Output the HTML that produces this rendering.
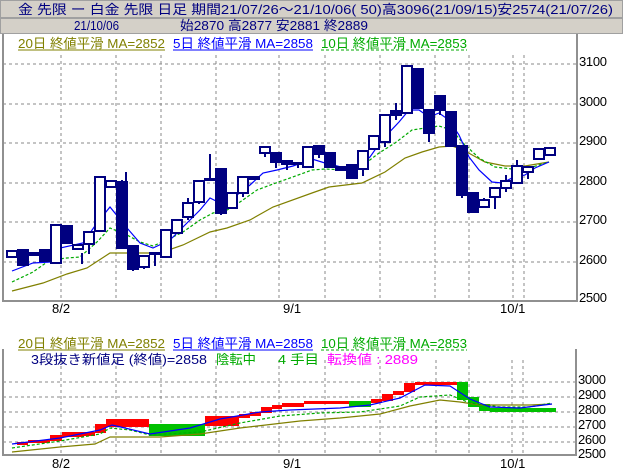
<!DOCTYPE html>
<html><head><meta charset="utf-8"><style>
html,body{margin:0;padding:0;background:#fff;}
svg{display:block;}
text{font-family:"Liberation Sans","Noto Sans CJK JP",sans-serif;font-size:13px;}
.ax{font-size:13px;fill:#000;}
</style></head><body>
<svg width="624" height="475" viewBox="0 0 624 475" xmlns="http://www.w3.org/2000/svg">
<rect x="0" y="0" width="624" height="475" fill="#fff"/>
<rect x="0.5" y="0.5" width="622" height="17" fill="#d4d0c8" stroke="#a0a0a0"/>
<rect x="0.5" y="18.5" width="622" height="15" fill="#d4d0c8" stroke="#a0a0a0"/>
<text x="18" y="14" fill="#000080" textLength="595" lengthAdjust="spacingAndGlyphs">金 先限 ー 白金 先限 日足 期間21/07/26～21/10/06( 50)高3096(21/09/15)安2574(21/07/26)</text>
<text x="74" y="30" fill="#000080" textLength="45" lengthAdjust="spacingAndGlyphs">21/10/06</text>
<text x="180" y="30" fill="#000080" textLength="188" lengthAdjust="spacingAndGlyphs">始2870 高2877 安2881 終2889</text>

<g stroke="#888" stroke-width="1" stroke-dasharray="3,3" fill="none">
<path d="M3 64H577M3 104H577M3 143H577M3 183H577M3 222H577M3 262H577"/>
<path d="M61 55V300M116 55V300M161 55V300M216 55V300M279 55V300M325 55V300M380 55V300M435 55V300M469 55V300M513 55V300M524 55V300"/>
</g>
<path d="M3 34V301H577V34" fill="none" stroke="#909090" stroke-width="2"/>
<text x="18" y="48" fill="#808000" textLength="147" lengthAdjust="spacingAndGlyphs">20日 終値平滑 MA=2852</text>
<line x1="18" y1="50" x2="165" y2="50" stroke="#808000"/>
<text x="173" y="48" fill="#0000ff" textLength="140" lengthAdjust="spacingAndGlyphs">5日 終値平滑 MA=2858</text>
<line x1="173" y1="50" x2="313" y2="50" stroke="#0000ff"/>
<text x="321" y="48" fill="#00aa00" textLength="146" lengthAdjust="spacingAndGlyphs">10日 終値平滑 MA=2853</text>
<line x1="321" y1="50" x2="467" y2="50" stroke="#00aa00" stroke-dasharray="3,2"/>
<g>
<text x="579" y="66" class="ax" textLength="28">3100</text><text x="579" y="106" class="ax" textLength="28">3000</text><text x="579" y="145" class="ax" textLength="28">2900</text><text x="579" y="185" class="ax" textLength="28">2800</text><text x="579" y="224" class="ax" textLength="28">2700</text><text x="579" y="264" class="ax" textLength="28">2600</text><text x="579" y="302" class="ax" textLength="28">2500</text>
<text x="52" y="313" class="ax">8/2</text><text x="283" y="313" class="ax">9/1</text><text x="500" y="313" class="ax">10/1</text>
</g>
<polyline fill="none" stroke="#808000" stroke-width="1.2" points="12,291 43,283 67,274 87,268 110,253 127,253 160,253 183,245 210,232 227,228 250,220 273,207 312,193 329,187 362,183 385,172 405,158 422,152 439,147 452,146 465,151 485,162 505,166 525,166 549,162"/>
<polyline fill="none" stroke="#00aa00" stroke-width="1.2" stroke-dasharray="3,2" points="12,282 33,272 50,260 67,258 80,257 97,242 110,228 127,235 140,242 153,246 167,240 183,232 200,220 213,213 227,210 240,202 257,190 273,184 290,178 312,170 325,169 345,170 362,166 379,153 395,143 412,130 425,128 439,126 452,130 462,142 479,158 495,167 512,169 529,168 549,162"/>
<polyline fill="none" stroke="#0000ff" stroke-width="1.2" points="12,271 33,263 50,262 60,248 83,243 97,223 110,207 127,228 140,243 153,248 170,240 187,223 200,210 210,198 220,203 233,198 250,185 263,173 277,170 293,166 312,159 325,163 345,168 359,166 370,157 382,140 399,122 409,110 419,110 429,117 439,113 449,120 459,135 469,157 479,170 492,182 502,183 512,178 525,175 535,168 549,162"/>
<g stroke="#000080" stroke-width="2">
<path d="M82 253V264M89 245V254M122 180V182M126 172V181M133 269V271M144 267V269M155 253V266M188 198V220M199 202V204M210 154V179M221 213V215M243 193V197M265 153V157M276 162V168M287 164V170M298 163V168M319 154V158M363 169V176M385 142V147M396 103V120M429 133V142M440 110V115M462 195V198M484 198V200M495 197V209M506 175V192M517 160V166M528 172V179"/>
<g fill="#000080">
<rect x="18" y="250" width="10" height="15"/><rect x="29" y="253" width="10" height="2"/><rect x="40" y="250" width="10" height="11"/><rect x="62" y="226" width="10" height="17"/><rect x="117" y="182" width="10" height="66"/><rect x="128" y="246" width="10" height="23"/><rect x="150" y="253" width="10" height="1"/><rect x="205" y="179" width="10" height="1"/><rect x="216" y="169" width="10" height="44"/><rect x="271" y="153" width="10" height="9"/><rect x="282" y="161" width="10" height="3"/><rect x="293" y="163" width="10" height="1"/><rect x="314" y="146" width="10" height="8"/><rect x="325" y="153" width="10" height="14"/><rect x="336" y="167" width="10" height="3"/><rect x="347" y="165" width="10" height="13"/><rect x="391" y="111" width="10" height="4"/><rect x="413" y="69" width="10" height="39"/><rect x="424" y="110" width="10" height="23"/><rect x="435" y="96" width="10" height="14"/><rect x="446" y="112" width="10" height="34"/><rect x="457" y="146" width="10" height="49"/><rect x="468" y="193" width="10" height="19"/>
</g>
<g fill="#fff">
<rect x="7" y="251" width="10" height="6"/><rect x="51" y="225" width="10" height="38"/><rect x="73" y="245" width="10" height="4"/><rect x="84" y="232" width="10" height="12"/><rect x="95" y="177" width="10" height="54"/><rect x="106" y="181" width="10" height="6"/><rect x="139" y="256" width="10" height="11"/><rect x="161" y="230" width="10" height="27"/><rect x="172" y="220" width="10" height="13"/><rect x="183" y="203" width="10" height="14"/><rect x="194" y="181" width="10" height="21"/><rect x="227" y="193" width="10" height="15"/><rect x="238" y="177" width="10" height="16"/><rect x="249" y="177" width="10" height="2"/><rect x="260" y="147" width="10" height="6"/><rect x="303" y="147" width="10" height="20"/><rect x="358" y="151" width="10" height="18"/><rect x="369" y="136" width="10" height="13"/><rect x="380" y="115" width="10" height="27"/><rect x="402" y="66" width="10" height="47"/><rect x="479" y="200" width="10" height="7"/><rect x="490" y="188" width="10" height="9"/><rect x="501" y="181" width="10" height="7"/><rect x="512" y="166" width="10" height="17"/><rect x="523" y="167" width="10" height="5"/><rect x="534" y="149" width="10" height="10"/><rect x="545" y="148" width="10" height="7"/>
</g>
</g>

<g stroke="#888" stroke-width="1" stroke-dasharray="3,3" fill="none">
<path d="M3 382H576M3 397H576M3 412H576M3 427H576M3 442H576"/>
<path d="M61 360V455M116 360V455M161 360V455M216 360V455M279 360V455M325 360V455M380 360V455M436 360V455M469 360V455M512 360V455M523 360V455"/>
</g>
<path d="M3 349V455H576V349" fill="none" stroke="#909090" stroke-width="2"/>
<text x="18" y="348" fill="#808000" textLength="147" lengthAdjust="spacingAndGlyphs">20日 終値平滑 MA=2852</text>
<line x1="18" y1="350" x2="165" y2="350" stroke="#808000"/>
<text x="173" y="348" fill="#0000ff" textLength="140" lengthAdjust="spacingAndGlyphs">5日 終値平滑 MA=2858</text>
<line x1="173" y1="350" x2="313" y2="350" stroke="#0000ff"/>
<text x="321" y="348" fill="#00aa00" textLength="146" lengthAdjust="spacingAndGlyphs">10日 終値平滑 MA=2853</text>
<line x1="321" y1="350" x2="467" y2="350" stroke="#00aa00" stroke-dasharray="3,2"/>
<text x="31" y="364" fill="#000080" textLength="176" lengthAdjust="spacingAndGlyphs">3段抜き新値足 (終値)=2858</text>
<text x="216" y="364" fill="#00aa00" textLength="40" lengthAdjust="spacingAndGlyphs">陰転中</text>
<text x="278" y="364" fill="#00aa00" textLength="41" lengthAdjust="spacingAndGlyphs">4 手目</text>
<text x="327" y="364" fill="#ff00ff" textLength="91" lengthAdjust="spacingAndGlyphs">転換値 : 2889</text>

<g fill="#ff0000">
<rect x="17" y="442" width="11" height="3"/><rect x="28" y="440" width="22" height="3"/><rect x="50" y="435" width="12" height="6"/><rect x="62" y="432" width="22" height="5"/><rect x="84" y="432" width="11" height="4"/><rect x="95" y="424" width="11" height="9"/><rect x="106" y="419" width="43" height="8"/>
<rect x="205" y="416" width="34" height="10"/><rect x="239" y="414" width="11" height="4"/><rect x="250" y="412" width="11" height="4"/><rect x="261" y="407" width="11" height="6"/><rect x="272" y="405" width="10" height="4"/><rect x="282" y="403" width="22" height="4"/><rect x="304" y="401" width="45" height="3"/>
<rect x="371" y="399" width="11" height="4"/><rect x="382" y="394" width="11" height="7"/><rect x="393" y="391" width="11" height="4"/><rect x="404" y="383" width="11" height="9"/><rect x="415" y="382" width="43" height="3"/>
</g>
<g fill="#00c000">
<rect x="149" y="424" width="56" height="12"/><rect x="349" y="401" width="22" height="6"/>
<rect x="457" y="382" width="11" height="18"/><rect x="468" y="397" width="11" height="10"/><rect x="479" y="404" width="11" height="7"/><rect x="490" y="408" width="66" height="4"/>
</g>
<polyline fill="none" stroke="#808000" stroke-width="1.2" points="12,452 60,447 95,444 110,437 160,437 200,434 240,428 300,421 340,418 380,414 410,406 440,400 460,402 480,405 500,405 530,405 552,404"/>
<polyline fill="none" stroke="#00aa00" stroke-width="1.2" stroke-dasharray="3,2" points="12,448 60,441 100,434 110,428 130,430 150,435 200,432 240,423 280,416 320,413 360,412 400,406 420,397 450,395 470,403 500,407 530,407 552,403"/>
<polyline fill="none" stroke="#0000ff" stroke-width="1.2" points="12,444 60,438 100,430 112,425 125,428 150,434 190,428 220,419 260,412 290,410 340,408 370,405 400,398 425,385 450,386 470,399 490,407 520,408 552,404"/>
<g>
<text x="578" y="384" class="ax" textLength="28">3000</text><text x="578" y="399" class="ax" textLength="28">2900</text><text x="578" y="414" class="ax" textLength="28">2800</text><text x="578" y="429" class="ax" textLength="28">2700</text><text x="578" y="444" class="ax" textLength="28">2600</text><text x="578" y="458" class="ax" textLength="28">2500</text>
<text x="52" y="468" class="ax">8/2</text><text x="283" y="468" class="ax">9/1</text><text x="500" y="468" class="ax">10/1</text>
</g>
</svg>
</body></html>
